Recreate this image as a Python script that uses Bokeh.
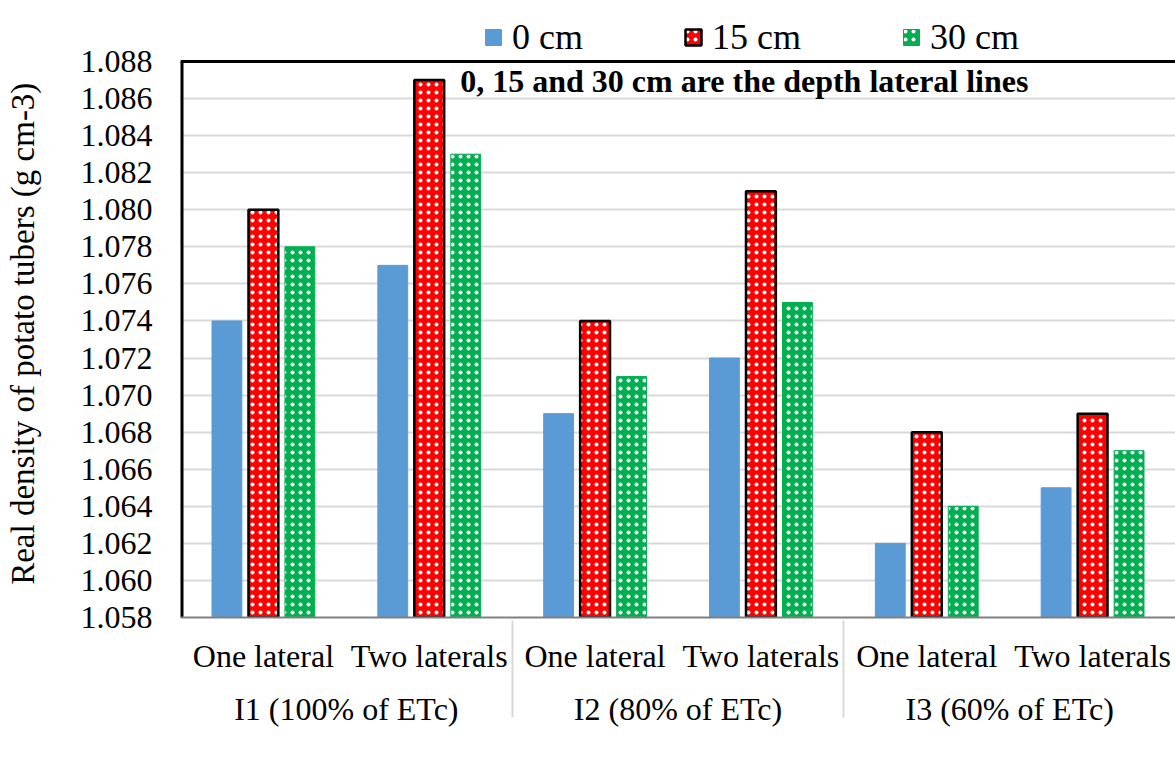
from bokeh.plotting import figure
from bokeh.models import (ColumnDataSource, FactorRange, Legend, LegendItem, Label,
                          Span, FixedTicker, NumeralTickFormatter)
from bokeh.transform import dodge
from bokeh.embed import file_html
from bokeh.resources import INLINE

# Irrigation treatments and lateral arrangements
treatments = ["I1 (100% of ETc)", "I2 (80% of ETc)", "I3 (60% of ETc)"]
laterals = ["One lateral", "Two laterals"]

# Real density of tubers (g cm-3) by lateral line depth
depth_0cm = [1.074, 1.077, 1.069, 1.072, 1.062, 1.065]
depth_15cm = [1.080, 1.087, 1.074, 1.081, 1.068, 1.069]
depth_30cm = [1.078, 1.083, 1.071, 1.075, 1.064, 1.067]

# value axis
y_ticks = [1.058, 1.060, 1.062, 1.064, 1.066, 1.068, 1.070, 1.072,
           1.074, 1.076, 1.078, 1.080, 1.082, 1.084, 1.086, 1.088]
y_start, y_end = y_ticks[0], y_ticks[-1]

W, H = 1175, 758
PLOT_TOP, PLOT_BOTTOM, PLOT_LEFT = 61, 617, 180   # plot box edges in pixels

factors = [(t, l) for t in treatments for l in laterals]
src = ColumnDataSource(dict(x=factors, d0=depth_0cm, d15=depth_15cm, d30=depth_30cm))

FONT = "Liberation Serif"

# the frame runs to the top of the canvas so the legend sits inside it;
# the value range above y_end is left empty
y_view_top = y_start + (y_end - y_start) * PLOT_BOTTOM / (PLOT_BOTTOM - PLOT_TOP)

p = figure(width=W, height=H, output_backend="svg", toolbar_location=None,
           x_range=FactorRange(*factors, range_padding=0, group_padding=0, factor_padding=0),
           y_range=(y_start, y_view_top),
           min_border_left=PLOT_LEFT, min_border_right=0, min_border_top=0,
           min_border_bottom=H - PLOT_BOTTOM)
p.outline_line_color = None
p.background_fill_color = "white"
p.border_fill_color = "white"

bar_w = 0.18
r0 = p.vbar(x=dodge("x", -0.22, range=p.x_range), top="d0", bottom=y_start, width=bar_w,
            source=src, fill_color="#5B9BD5", line_color="#5B9BD5", line_width=1)
r15 = p.vbar(x=dodge("x", 0.0, range=p.x_range), top="d15", bottom=y_start, width=bar_w,
             source=src, fill_color="#FF0000", line_color="black", line_width=2.5,
             hatch_pattern="dot", hatch_color="white", hatch_scale=8, hatch_weight=5)
r30 = p.vbar(x=dodge("x", 0.22, range=p.x_range), top="d30", bottom=y_start, width=bar_w,
             source=src, fill_color="#00B050", line_color="#00B050", line_width=1,
             hatch_pattern="dot", hatch_color="white", hatch_scale=8, hatch_weight=1.5)

# plot box: black top and left edges
p.add_layout(Span(location=y_end, dimension="width", line_color="black", line_width=3))
p.segment(x0=0, y0=y_start, x1=0, y1=y_end, line_color="black", line_width=6)

# grid and axes
p.xgrid.grid_line_color = None
p.ygrid.grid_line_color = "#D9D9D9"
p.ygrid.grid_line_width = 2
p.yaxis.ticker = FixedTicker(ticks=y_ticks)
p.yaxis.formatter = NumeralTickFormatter(format="0.000")
p.yaxis.major_tick_line_color = None
p.yaxis.minor_tick_line_color = None
p.yaxis.axis_line_color = None
p.yaxis.major_label_text_font = FONT
p.yaxis.major_label_text_font_size = "32px"
p.yaxis.major_label_text_color = "black"
p.yaxis.major_label_standoff = 22
# trailing no-break spaces lower the centred title onto the plot box
p.yaxis.axis_label = "Real density of potato tubers (g cm-3)" + "\u00a0" * 6
p.yaxis.axis_label_text_font = FONT
p.yaxis.axis_label_text_font_size = "33px"
p.yaxis.axis_label_text_font_style = "normal"
p.yaxis.axis_label_text_color = "black"
p.yaxis.axis_label_standoff = 37

xa = p.xaxis[0]
xa.axis_line_color = "#808080"
xa.axis_line_width = 2
xa.major_tick_line_color = None
xa.minor_tick_line_color = None
xa.major_label_text_font = FONT
xa.major_label_text_font_size = "32px"
xa.major_label_text_color = "black"
xa.major_label_standoff = 14
xa.group_text_font = FONT
xa.group_text_font_size = "32px"
xa.group_text_font_style = "normal"
xa.group_text_color = "black"
xa.separator_line_color = "#D9D9D9"
xa.separator_line_width = 2

# note on depths
p.add_layout(Label(x=3.4, y=y_end - 0.0001, text="0, 15 and 30 cm are the depth lateral lines",
                   text_align="center", text_baseline="top", text_font=FONT,
                   text_font_style="bold", text_font_size="32px", text_color="black"))

legend = Legend(items=[LegendItem(label="0 cm", renderers=[r0]),
                       LegendItem(label="15 cm", renderers=[r15]),
                       LegendItem(label="30 cm", renderers=[r30])],
                orientation="horizontal", location=(303, PLOT_BOTTOM - 58),
                label_text_font=FONT, label_text_font_size="36px", label_text_color="black",
                glyph_width=20, glyph_height=20, label_standoff=9, spacing=100,
                padding=0, margin=0, border_line_color=None, background_fill_alpha=0)
p.add_layout(legend, "center")

open("out.html", "w").write(file_html(p, INLINE))
